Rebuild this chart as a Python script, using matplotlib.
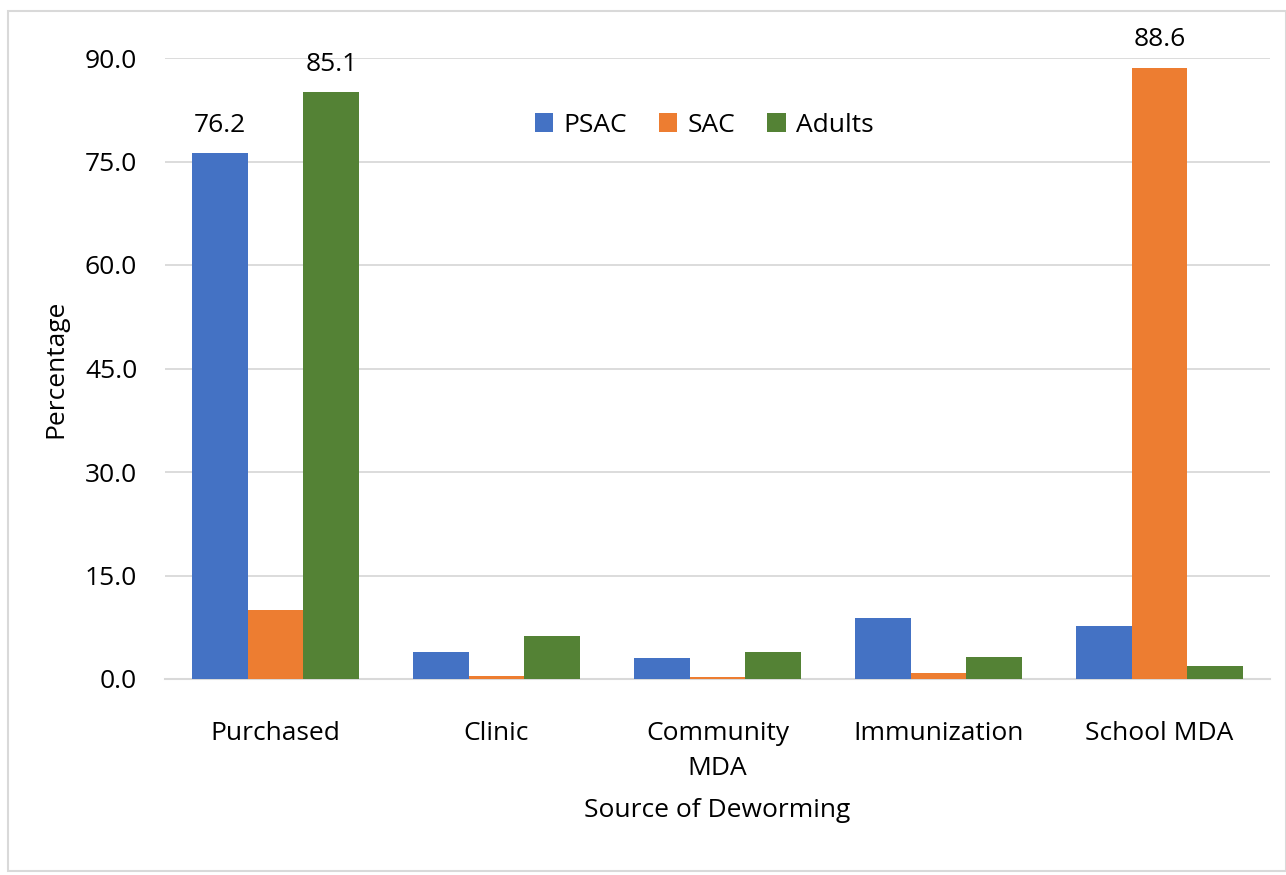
import numpy as np
import matplotlib
matplotlib.use("Agg")
import matplotlib.pyplot as plt
from matplotlib.patches import Rectangle

categories = ["Purchased", "Clinic", "Community\nMDA", "Immunization", "School MDA"]
psac = [76.2, 3.9, 3.0, 8.8, 7.7]
sac = [10.0, 0.4, 0.3, 0.9, 88.6]
adults = [85.1, 6.2, 3.9, 3.2, 1.9]
series = [("PSAC", psac, "#4472C4"), ("SAC", sac, "#ED7D31"), ("Adults", adults, "#548235")]
labelled = {"PSAC": [0], "SAC": [4], "Adults": [0]}  # only these bars carry a value label

plt.rcParams['font.family'] = ['Open Sans', 'DejaVu Sans']
fs = 19

fig = plt.figure(figsize=(12.86, 8.75), dpi=100)
ax = fig.add_axes([165/1286, 1 - 679/875, 1105/1286, (679 - 58)/875])
fig.patches.append(Rectangle((8/1286, 4/875), 1 - 8/1286, 1 - 15/875, transform=fig.transFigure,
                             fill=False, edgecolor="#d9d9d9", linewidth=1.5))

x = np.arange(len(categories))
w = 0.253
for i, (name, vals, col) in enumerate(series):
    bars = ax.bar(x + (i - 1) * w, vals, w, color=col, label=name, zorder=3)
    for j in labelled[name]:
        ax.text(x[j] + (i - 1) * w, vals[j] + 2.2, "%.1f" % vals[j], ha="center", va="bottom",
                fontsize=fs, clip_on=False)

ax.set_xlim(-0.5, len(categories) - 0.5)
ax.set_ylim(0, 90)
ax.set_yticks(np.arange(0, 91, 15))
ax.set_yticklabels(["%.1f" % v for v in np.arange(0, 91, 15)])
ax.set_xticks(x)
ax.set_xticklabels(categories, linespacing=1.55)
ax.grid(axis="y", color="#d9d9d9", linewidth=1.3, zorder=0)
ax.set_axisbelow(True)
for s in ["left", "right", "top"]:
    ax.spines[s].set_visible(False)
ax.spines["bottom"].set_color("#d9d9d9")
ax.spines["bottom"].set_linewidth(1.5)
ax.tick_params(axis="both", length=0, labelsize=fs)
ax.tick_params(axis="x", pad=30)
ax.tick_params(axis="y", pad=20)

ax.set_xlabel("Source of Deworming", fontsize=fs, labelpad=12)
ax.set_ylabel("Percentage", fontsize=fs, labelpad=12)

ax.legend(loc="upper center", bbox_to_anchor=(0.488, 0.95), ncol=3, frameon=False, fontsize=fs,
          handlelength=0.7, handleheight=0.7, columnspacing=1.2, handletextpad=0.4)

fig.savefig("out.png", dpi=100)
